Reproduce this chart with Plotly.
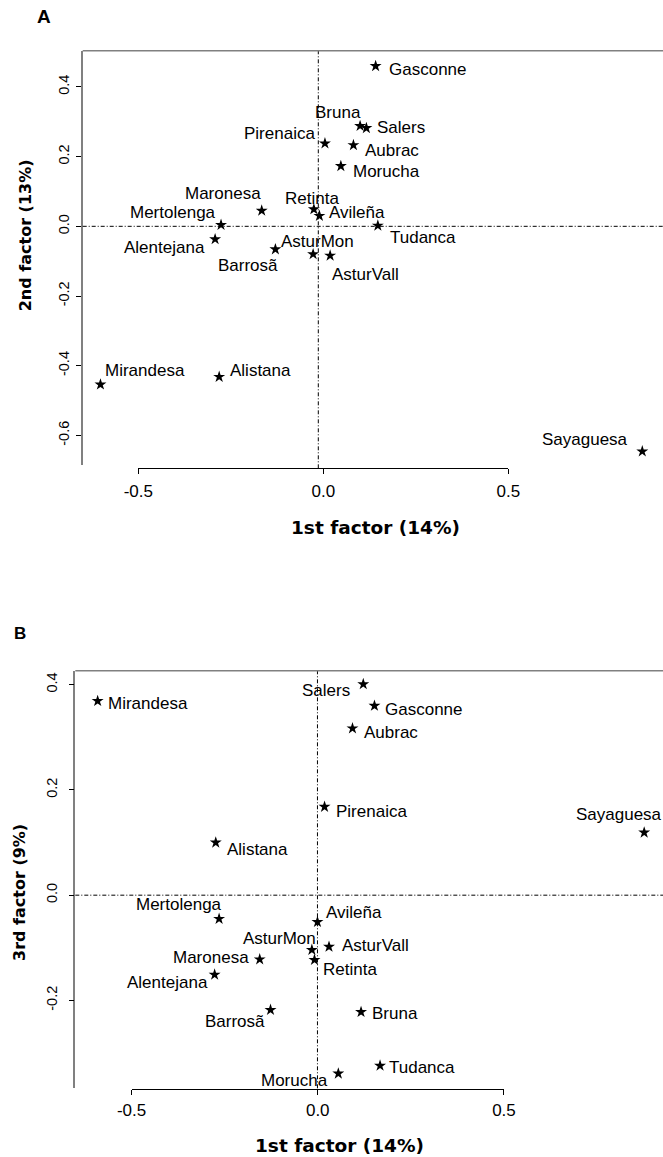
import plotly.graph_objects as go

# ---------------- data ----------------
breeds = ["Gasconne", "Bruna", "Salers", "Aubrac", "Morucha", "Pirenaica",
          "Maronesa", "Mertolenga", "Retinta", "Avileña", "Tudanca",
          "Alentejana", "Barrosã", "AsturMon", "AsturVall", "Mirandesa",
          "Alistana", "Sayaguesa"]

# Panel A: 1st factor vs 2nd factor
factor1_a = [0.155, 0.113, 0.130, 0.095, 0.061, 0.018,
             -0.153, -0.263, -0.012, 0.003, 0.161,
             -0.279, -0.116, -0.014, 0.032, -0.589,
             -0.268, 0.876]
factor2_a = [0.460, 0.288, 0.282, 0.233, 0.173, 0.238,
             0.045, 0.004, 0.049, 0.030, 0.002,
             -0.037, -0.066, -0.080, -0.084, -0.454,
             -0.432, -0.646]

# Panel B: 1st factor vs 3rd factor
factor1_b = [0.153, 0.117, 0.123, 0.094, 0.056, 0.019,
             -0.155, -0.264, -0.008, 0.000, 0.168,
             -0.276, -0.126, -0.015, 0.031, -0.590,
             -0.273, 0.877]
factor3_b = [0.360, -0.222, 0.401, 0.317, -0.339, 0.168,
             -0.122, -0.045, -0.123, -0.051, -0.324,
             -0.151, -0.218, -0.104, -0.098, 0.369,
             0.100, 0.119]

x_ticks = [-0.5, 0.0, 0.5]
x_tick_labels = ["-0.5", "0.0", "0.5"]
y_ticks_a = [-0.6, -0.4, -0.2, 0.0, 0.2, 0.4]
y_ticks_b = [-0.2, 0.0, 0.2, 0.4]

x_title = "1st factor (14%)"
y_title_a = "2nd factor (13%)"
y_title_b = "3rd factor (9%)"

# ---------------- label placement (style) ----------------
# (anchor, x offset px, y offset px downward of text middle)
LAB_A = {
    "Gasconne": ("left", 11, 3), "Bruna": ("right", 3, -13),
    "Salers": ("left", 9, -1), "Aubrac": ("left", 10, 5),
    "Morucha": ("left", 10, 5), "Pirenaica": ("right", -8, -10),
    "Maronesa": ("right", 1, -17), "Mertolenga": ("right", -3, -12),
    "Retinta": ("center", -1.5, -11), "Avileña": ("left", 8, -3),
    "Tudanca": ("left", 10.5, 11.5), "Alentejana": ("right", -8, 8.5),
    "Barrosã": ("right", 5, 16), "AsturMon": ("center", 4.5, -12.5),
    "AsturVall": ("left", -0.5, 18.5), "Mirandesa": ("left", 2.5, -14),
    "Alistana": ("left", 9, -6.5), "Sayaguesa": ("right", -12, -11.5),
}
LAB_B = {
    "Mirandesa": ("left", 8, 2), "Salers": ("right", -11.5, 6),
    "Gasconne": ("left", 9, 3.5), "Aubrac": ("left", 9.5, 4),
    "Pirenaica": ("left", 9, 4.5), "Sayaguesa": ("center", -25.5, -18),
    "Alistana": ("left", 9.5, 6.5), "Mertolenga": ("right", 5, -14),
    "Avileña": ("left", 6.5, -9.5), "AsturMon": ("right", 6.5, -11.5),
    "AsturVall": ("left", 10.5, -1), "Retinta": ("left", 7, 9.5),
    "Maronesa": ("right", -9, -1.5), "Alentejana": ("right", -5, 7.5),
    "Barrosã": ("right", -4, 12), "Bruna": ("left", 8.5, 1.5),
    "Tudanca": ("left", 7, 1.5), "Morucha": ("right", -8.5, 7),
}

W, H = 663, 1157
def px(v):
    return v / W
def py(v):
    return 1 - v / H

LABEL_FONT = dict(family="Liberation Sans, Arial", size=17, color="black")
TICK_FONT_X = dict(family="Liberation Sans, Arial", size=17, color="black")
TICK_FONT_Y = dict(family="Liberation Sans, Arial", size=14.5, color="black")
TITLE_FONT_X = dict(family="DejaVu Sans", size=18.5, color="black")
TITLE_FONT_Y = dict(family="DejaVu Sans", size=16, color="black")
BORDER = "#808080"
DASH = "4px,2px,1px,2px"

fig = go.Figure()

fig.add_trace(go.Scatter(x=factor1_a, y=factor2_a, mode="markers", xaxis="x", yaxis="y",
                         marker=dict(symbol="star", size=9, color="black"),
                         text=breeds, hoverinfo="text", showlegend=False))
fig.add_trace(go.Scatter(x=factor1_b, y=factor3_b, mode="markers", xaxis="x2", yaxis="y2",
                         marker=dict(symbol="star", size=9, color="black"),
                         text=breeds, hoverinfo="text", showlegend=False))

annotations = []
for name, xv, yv in zip(breeds, factor1_a, factor2_a):
    anc, dx, dy = LAB_A[name]
    annotations.append(dict(x=xv, y=yv, xref="x", yref="y", text=name, showarrow=False,
                            xanchor=anc, yanchor="middle", xshift=dx, yshift=-dy,
                            font=LABEL_FONT))
for name, xv, yv in zip(breeds, factor1_b, factor3_b):
    anc, dx, dy = LAB_B[name]
    annotations.append(dict(x=xv, y=yv, xref="x2", yref="y2", text=name, showarrow=False,
                            xanchor=anc, yanchor="middle", xshift=dx, yshift=-dy,
                            font=LABEL_FONT))

# titles & panel letters
annotations += [
    dict(x=px(375.3), y=py(527.5), xref="paper", yref="paper", text="<b>%s</b>" % x_title,
         showarrow=False, xanchor="center", yanchor="middle", font=TITLE_FONT_X),
    dict(x=px(339.3), y=py(1145), xref="paper", yref="paper", text="<b>%s</b>" % x_title,
         showarrow=False, xanchor="center", yanchor="middle", font=TITLE_FONT_X),
    dict(x=px(25.5), y=py(235.8), xref="paper", yref="paper", text="<b>%s</b>" % y_title_a,
         showarrow=False, textangle=-90, xanchor="center", yanchor="middle", font=TITLE_FONT_Y),
    dict(x=px(19.5), y=py(892.5), xref="paper", yref="paper", text="<b>%s</b>" % y_title_b,
         showarrow=False, textangle=-90, xanchor="center", yanchor="middle", font=TITLE_FONT_Y),
    dict(x=px(44), y=py(17), xref="paper", yref="paper", text="<b>A</b>", showarrow=False,
         xanchor="center", yanchor="middle",
         font=dict(family="Liberation Sans, Arial", size=19, color="black")),
    dict(x=px(20), y=py(633), xref="paper", yref="paper", text="<b>B</b>", showarrow=False,
         xanchor="center", yanchor="middle",
         font=dict(family="Liberation Sans, Arial", size=17, color="black")),
]

shapes = []
for xr, yr, y0 in (("x", "y", -0.008), ("x2", "y2", 0.0)):
    shapes.append(dict(type="line", xref=xr, yref=yr + " domain", x0=0, x1=0, y0=y0, y1=1,
                       line=dict(color="black", width=1, dash=DASH)))
    shapes.append(dict(type="line", xref=xr + " domain", yref=yr, x0=0, x1=1, y0=0, y1=0,
                       line=dict(color="black", width=1, dash=DASH)))
    shapes.append(dict(type="line", xref=xr + " domain", yref=yr + " domain", x0=0, x1=1,
                       y0=1, y1=1, line=dict(color=BORDER, width=1.5)))

common_hidden_x = dict(showgrid=False, zeroline=False, showticklabels=False, ticks="",
                       showline=False, automargin=False)

def yaxis_style(dom, rng, ticks, anchor, standoff):
    return dict(domain=dom, range=rng, anchor=anchor, tickvals=ticks,
                ticktext=["%.1f" % t for t in ticks], tickangle=-90, ticks="outside",
                ticklen=5, tickcolor="black", showline=True, linecolor=BORDER, linewidth=1.5,
                showgrid=False, zeroline=False, tickfont=TICK_FONT_Y, automargin=False,
                ticklabelstandoff=standoff)

def tick_xaxis(dom, pos, standoff):
    return dict(domain=dom, range=[-0.5001, 0.5001], anchor="free", position=pos,
                tickvals=x_ticks, ticktext=x_tick_labels, ticks="outside", ticklen=5,
                tickcolor="black", showline=True, linecolor="black", linewidth=1,
                showgrid=False, zeroline=False, tickfont=TICK_FONT_X, automargin=False,
                ticklabelstandoff=standoff)

fig.update_layout(
    width=W, height=H, margin=dict(l=0, r=0, t=0, b=0),
    paper_bgcolor="white", plot_bgcolor="rgba(0,0,0,0)", showlegend=False,
    xaxis=dict(domain=[px(82.7), 1], range=[-0.637, 0.932], anchor="y", **common_hidden_x),
    yaxis=yaxis_style([py(465), py(50.7)], [-0.685, 0.504], y_ticks_a, "x", 1),
    xaxis2=dict(domain=[px(75.3), 1], range=[-0.650, 0.9275], anchor="y2", **common_hidden_x),
    yaxis2=yaxis_style([py(1088.3), py(670.7)], [-0.367, 0.4266], y_ticks_b, "x2", 6),
    xaxis3=tick_xaxis([px(138.3), px(508.3)], py(468.3), 2),
    xaxis4=tick_xaxis([px(131.5), px(504)], py(1089), 1),
    annotations=annotations, shapes=shapes,
)

# invisible helper traces so the tick-only axes are rendered
fig.add_trace(go.Scatter(x=[None], y=[None], xaxis="x3", yaxis="y", showlegend=False,
                         hoverinfo="skip"))
fig.add_trace(go.Scatter(x=[None], y=[None], xaxis="x4", yaxis="y2", showlegend=False,
                         hoverinfo="skip"))

fig.write_html("out.html", config={"displayModeBar": False},
               post_script="document.body.style.margin='0';document.body.style.overflow='hidden';")
